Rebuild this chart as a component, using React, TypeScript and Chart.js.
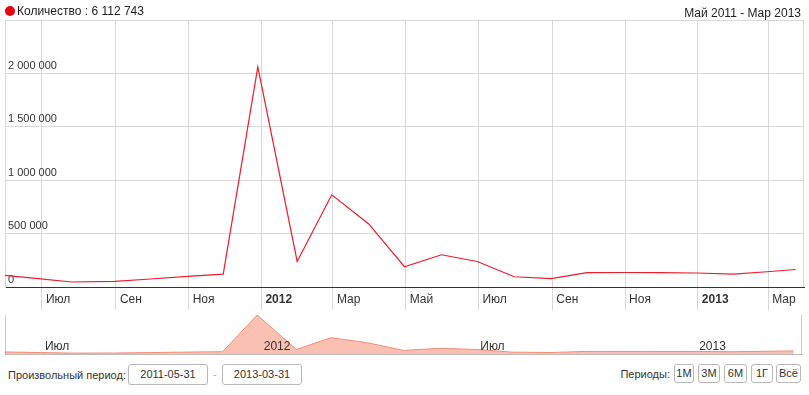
import React, { useEffect, useRef } from 'react';
import { Chart, registerables } from 'chart.js';

Chart.register(...registerables);

const FONT = '"Liberation Sans", Arial, sans-serif';

const pointDates = [
  '2011-05-31', '2011-06-30', '2011-07-26', '2011-08-31', '2011-09-30', '2011-10-31',
  '2011-11-30', '2011-12-29', '2012-01-31', '2012-02-29', '2012-03-31', '2012-04-30',
  '2012-05-31', '2012-06-30', '2012-07-31', '2012-08-31', '2012-09-30', '2012-10-31',
  '2012-11-30', '2012-12-31', '2013-01-31', '2013-02-28', '2013-03-24',
];
const pointValues = [
  108000, 76000, 47000, 52000, 75000, 100000,
  121000, 2062000, 239000, 863000, 590000, 190000,
  302000, 239000, 96000, 78000, 134000, 136000,
  134000, 131000, 121000, 143000, 164000,
];

const axisTickDates = [
  '2011-07-01', '2011-09-01', '2011-11-01', '2012-01-01', '2012-03-01', '2012-05-01',
  '2012-07-01', '2012-09-01', '2012-11-01', '2013-01-01', '2013-03-01',
];
const axisTickLabels = ['Июл', 'Сен', 'Ноя', '2012', 'Мар', 'Май', 'Июл', 'Сен', 'Ноя', '2013', 'Мар'];

const navTickDates = ['2011-07-01', '2012-01-01', '2012-07-01', '2013-01-01'];
const navTickLabels = ['Июл', '2012', 'Июл', '2013'];

const yTicks = [0, 500000, 1000000, 1500000, 2000000, 2500000];
const yMax = 2500000;

const rangeStart = '2011-05-31';
const rangeEnd = '2013-03-31';
const totalLabel = 'Количество : 6 112 743';
const periodLabel = 'Май 2011 - Мар 2013';
const customPeriodLabel = 'Произвольный период:';
const periodsLabel = 'Периоды:';
const periodButtons = ['1М', '3М', '6М', '1Г', 'Всё'];

const toDay = (s: string) =>
  Date.UTC(+s.slice(0, 4), +s.slice(5, 7) - 1, +s.slice(8, 10)) / 86400000;
const fmt = (v: number) => String(v).replace(/\B(?=(\d{3})+(?!\d))/g, ' ');

const GRID = '#d8d8d8';

const edgePlugin = (left: boolean, right: boolean, color: string) => ({
  id: 'edges' + (left ? 'L' : '') + (right ? 'R' : ''),
  beforeDatasetsDraw(chart: any) {
    const { ctx, chartArea } = chart;
    ctx.save();
    ctx.strokeStyle = color;
    ctx.lineWidth = 1;
    ctx.beginPath();
    if (left) {
      const x = Math.round(chartArea.left) + 0.5;
      ctx.moveTo(x, chartArea.top);
      ctx.lineTo(x, chartArea.bottom);
    }
    if (right) {
      const x = Math.round(chartArea.right) - 0.5;
      ctx.moveTo(x, chartArea.top);
      ctx.lineTo(x, chartArea.bottom);
    }
    ctx.stroke();
    ctx.restore();
  },
});

export default function App() {
  const mainRef = useRef<HTMLCanvasElement>(null);
  const navRef = useRef<HTMLCanvasElement>(null);

  useEffect(() => {
    const pts = pointDates.map((d, i) => ({ x: toDay(d), y: pointValues[i] }));
    const main = new Chart(mainRef.current as HTMLCanvasElement, {
      type: 'line',
      data: {
        datasets: [
          {
            data: pts,
            borderColor: 'rgb(235,30,45)',
            borderWidth: 1.2,
            pointRadius: 0,
            tension: 0,
            fill: false,
          },
        ],
      },
      options: {
        animation: false,
        responsive: false,
        maintainAspectRatio: false,
        layout: { padding: { top: 20, left: 5, right: 5, bottom: 0 } },
        plugins: { legend: { display: false }, tooltip: { enabled: false } },
        scales: {
          x: {
            type: 'linear',
            min: toDay(rangeStart),
            max: toDay(rangeEnd),
            afterBuildTicks: (s: any) => {
              s.ticks = axisTickDates.map((d) => ({ value: toDay(d) }));
            },
            afterFit: (s: any) => {
              s.height = 25;
            },
            ticks: {
              autoSkip: false,
              maxRotation: 0,
              align: 'start',
              labelOffset: 4,
              padding: -18,
              color: '#333',
              font: (ctx: any) => ({
                family: FONT,
                size: 12,
                weight: /^\d{4}$/.test(axisTickLabels[ctx.index] || '') ? 'bold' : 'normal',
              }),
              callback: (_v: any, i: number) => axisTickLabels[i],
            },
            grid: { color: GRID, drawTicks: true, tickLength: 23, tickColor: GRID },
            border: { display: true, color: '#333' },
          },
          y: {
            min: 0,
            max: yMax,
            afterBuildTicks: (s: any) => {
              s.ticks = yTicks.map((v) => ({ value: v }));
            },
            afterFit: (s: any) => {
              s.width = 0;
            },
            ticks: {
              mirror: true,
              padding: 3,
              labelOffset: -7.5,
              color: '#333',
              font: { family: FONT, size: 11 },
              callback: (v: any) => (v === yMax ? '' : fmt(v)),
            },
            grid: {
              color: (ctx: any) => (ctx.tick && ctx.tick.value === 0 ? '#333' : GRID),
              drawTicks: false,
            },
            border: { display: true, color: GRID },
          },
        },
      } as any,
      plugins: [edgePlugin(false, true, GRID)],
    });

    const nav = new Chart(navRef.current as HTMLCanvasElement, {
      type: 'line',
      data: {
        datasets: [
          {
            data: pts,
            borderColor: 'rgb(242,140,120)',
            backgroundColor: 'rgba(245,140,115,0.55)',
            borderWidth: 1,
            pointRadius: 0,
            tension: 0,
            fill: 'origin',
          },
        ],
      },
      options: {
        animation: false,
        responsive: false,
        maintainAspectRatio: false,
        layout: { padding: { top: 3, left: 5, right: 7, bottom: 0 } },
        plugins: { legend: { display: false }, tooltip: { enabled: false } },
        scales: {
          x: {
            type: 'linear',
            min: toDay(rangeStart),
            max: toDay(rangeEnd),
            afterBuildTicks: (s: any) => {
              s.ticks = navTickDates.map((d) => ({ value: toDay(d) }));
            },
            afterFit: (s: any) => {
              s.height = 3;
            },
            ticks: {
              z: 1,
              mirror: true,
              autoSkip: false,
              maxRotation: 0,
              align: 'start',
              labelOffset: 3,
              padding: 0,
              color: '#333',
              font: { family: FONT, size: 12 },
              callback: (_v: any, i: number) => navTickLabels[i],
            },
            grid: { display: false, drawTicks: false },
            border: { display: true, color: '#bbb' },
          },
          y: { display: false, min: 0, max: Math.max(...pointValues) },
        },
      } as any,
      plugins: [edgePlugin(true, true, '#ccc')],
    });

    return () => {
      main.destroy();
      nav.destroy();
    };
  }, []);

  const text: React.CSSProperties = {
    position: 'absolute',
    fontFamily: FONT,
    fontSize: 12,
    lineHeight: '16px',
    color: '#333',
    whiteSpace: 'nowrap',
  };
  const small: React.CSSProperties = { ...text, fontSize: 11 };
  const box: React.CSSProperties = {
    ...small,
    boxSizing: 'border-box',
    border: '1px solid #b8b8b8',
    borderRadius: 3,
    textAlign: 'center',
    background: '#fff',
  };
  const btnLefts = [674, 698, 724, 751, 776];
  const btnWidths = [20, 22, 23, 22, 25];

  return (
    <div
      style={{
        position: 'absolute',
        left: 0,
        top: 0,
        width: 809,
        height: 395,
        background: '#fff',
        overflow: 'hidden',
      }}
    >
      <canvas
        ref={mainRef}
        width={809}
        height={312}
        style={{ position: 'absolute', left: 0, top: 0, width: 809, height: 312 }}
      />
      <canvas
        ref={navRef}
        width={809}
        height={45}
        style={{ position: 'absolute', left: 0, top: 312, width: 809, height: 45 }}
      />
      <div
        style={{
          position: 'absolute',
          left: 5,
          top: 6,
          width: 10,
          height: 10,
          borderRadius: '50%',
          background: '#e8000b',
        }}
      />
      <div style={{ ...text, left: 17, top: 3, color: '#222' }}>{totalLabel}</div>
      <div style={{ ...text, right: 8, top: 5, color: '#222' }}>{periodLabel}</div>

      <div style={{ ...small, left: 8, top: 367 }}>{customPeriodLabel}</div>
      <div style={{ ...box, left: 128, top: 364, width: 80, height: 21, lineHeight: '19px' }}>
        {rangeStart}
      </div>
      <div style={{ ...small, left: 213, top: 366, color: '#aaa' }}>-</div>
      <div style={{ ...box, left: 222, top: 364, width: 80, height: 21, lineHeight: '19px' }}>
        {rangeEnd}
      </div>

      <div style={{ ...small, right: 139, top: 366 }}>{periodsLabel}</div>
      {periodButtons.map((b, i) => (
        <div
          key={b}
          style={{
            ...box,
            left: btnLefts[i],
            top: 364,
            width: btnWidths[i],
            height: 19,
            lineHeight: '17px',
          }}
        >
          {b}
        </div>
      ))}
    </div>
  );
}
